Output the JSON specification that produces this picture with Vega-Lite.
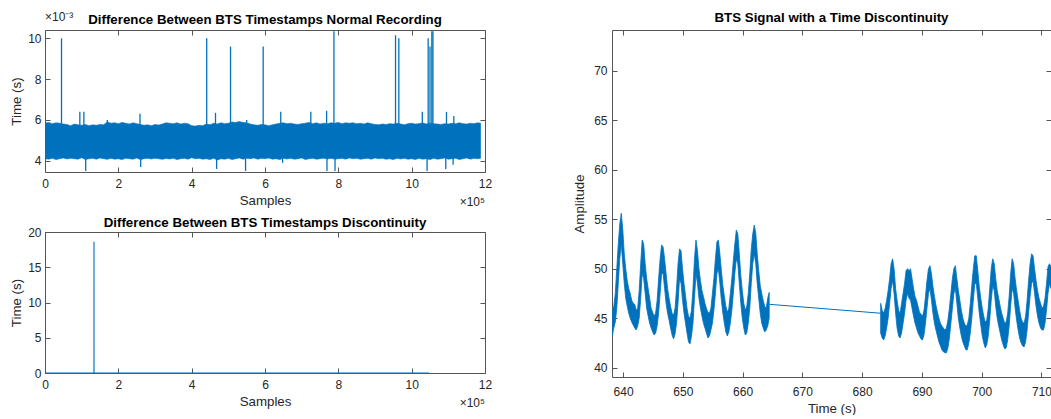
{
  "$schema": "https://vega.github.io/schema/vega-lite/v6.json",
  "padding": {"left": 9, "top": 10, "right": 0, "bottom": 0},
  "background": "white",
  "bounds": "flush",
  "spacing": 567,
  "config": {
    "font": "Liberation Sans",
    "view": {"stroke": "#555555", "strokeWidth": 1},
    "axis": {
      "domain": false, "grid": false, "ticks": true, "tickSize": -5, "tickColor": "#555555", "tickWidth": 1,
      "labelFont": "Liberation Sans", "labelFontSize": 12, "labelColor": "#262626", "labelPadding": 9,
      "labelFlush": false, "labelOverlap": false,
      "titleFont": "Liberation Sans", "titleFontSize": 13.3, "titleFontWeight": "normal", "titleColor": "#262626", "titlePadding": 4
    },
    "axisX": {"labelPadding": 11},
    "title": {"font": "Liberation Sans", "fontSize": 13.3, "fontWeight": "bold", "color": "#000000", "offset": 4}
  },
  "datasets": {
    "band": [
      {"sample": 0, "lo": 0.00410, "hi": 0.00585},
      {"sample": 10000, "lo": 0.00408, "hi": 0.00588},
      {"sample": 20000, "lo": 0.00412, "hi": 0.00582},
      {"sample": 30000, "lo": 0.00406, "hi": 0.00586},
      {"sample": 40000, "lo": 0.00410, "hi": 0.00584},
      {"sample": 50000, "lo": 0.00414, "hi": 0.00580},
      {"sample": 60000, "lo": 0.00409, "hi": 0.00578},
      {"sample": 70000, "lo": 0.00412, "hi": 0.00572},
      {"sample": 80000, "lo": 0.00410, "hi": 0.00580},
      {"sample": 90000, "lo": 0.00408, "hi": 0.00576},
      {"sample": 100000, "lo": 0.00415, "hi": 0.00574},
      {"sample": 110000, "lo": 0.00406, "hi": 0.00578},
      {"sample": 120000, "lo": 0.00410, "hi": 0.00572},
      {"sample": 130000, "lo": 0.00412, "hi": 0.00576},
      {"sample": 140000, "lo": 0.00408, "hi": 0.00574},
      {"sample": 150000, "lo": 0.00414, "hi": 0.00578},
      {"sample": 160000, "lo": 0.00410, "hi": 0.00576},
      {"sample": 170000, "lo": 0.00407, "hi": 0.00590},
      {"sample": 180000, "lo": 0.00412, "hi": 0.00584},
      {"sample": 190000, "lo": 0.00408, "hi": 0.00586},
      {"sample": 200000, "lo": 0.00410, "hi": 0.00582},
      {"sample": 210000, "lo": 0.00406, "hi": 0.00588},
      {"sample": 220000, "lo": 0.00412, "hi": 0.00584},
      {"sample": 230000, "lo": 0.00410, "hi": 0.00580},
      {"sample": 240000, "lo": 0.00408, "hi": 0.00586},
      {"sample": 250000, "lo": 0.00414, "hi": 0.00582},
      {"sample": 260000, "lo": 0.00406, "hi": 0.00578},
      {"sample": 270000, "lo": 0.00410, "hi": 0.00574},
      {"sample": 280000, "lo": 0.00412, "hi": 0.00576},
      {"sample": 290000, "lo": 0.00409, "hi": 0.00572},
      {"sample": 300000, "lo": 0.00413, "hi": 0.00578},
      {"sample": 310000, "lo": 0.00410, "hi": 0.00575},
      {"sample": 320000, "lo": 0.00407, "hi": 0.00580},
      {"sample": 330000, "lo": 0.00411, "hi": 0.00586},
      {"sample": 340000, "lo": 0.00409, "hi": 0.00584},
      {"sample": 350000, "lo": 0.00412, "hi": 0.00582},
      {"sample": 360000, "lo": 0.00406, "hi": 0.00586},
      {"sample": 370000, "lo": 0.00410, "hi": 0.00580},
      {"sample": 380000, "lo": 0.00412, "hi": 0.00584},
      {"sample": 390000, "lo": 0.00408, "hi": 0.00582},
      {"sample": 400000, "lo": 0.00415, "hi": 0.00572},
      {"sample": 410000, "lo": 0.00410, "hi": 0.00570},
      {"sample": 420000, "lo": 0.00412, "hi": 0.00574},
      {"sample": 430000, "lo": 0.00408, "hi": 0.00572},
      {"sample": 440000, "lo": 0.00410, "hi": 0.00580},
      {"sample": 450000, "lo": 0.00406, "hi": 0.00576},
      {"sample": 460000, "lo": 0.00412, "hi": 0.00584},
      {"sample": 470000, "lo": 0.00404, "hi": 0.00580},
      {"sample": 480000, "lo": 0.00410, "hi": 0.00586},
      {"sample": 490000, "lo": 0.00408, "hi": 0.00582},
      {"sample": 500000, "lo": 0.00412, "hi": 0.00584},
      {"sample": 510000, "lo": 0.00406, "hi": 0.00590},
      {"sample": 520000, "lo": 0.00410, "hi": 0.00588},
      {"sample": 530000, "lo": 0.00414, "hi": 0.00592},
      {"sample": 540000, "lo": 0.00408, "hi": 0.00588},
      {"sample": 550000, "lo": 0.00412, "hi": 0.00586},
      {"sample": 560000, "lo": 0.00410, "hi": 0.00580},
      {"sample": 570000, "lo": 0.00414, "hi": 0.00576},
      {"sample": 580000, "lo": 0.00408, "hi": 0.00574},
      {"sample": 590000, "lo": 0.00412, "hi": 0.00578},
      {"sample": 600000, "lo": 0.00410, "hi": 0.00576},
      {"sample": 610000, "lo": 0.00414, "hi": 0.00572},
      {"sample": 620000, "lo": 0.00408, "hi": 0.00576},
      {"sample": 630000, "lo": 0.00410, "hi": 0.00580},
      {"sample": 640000, "lo": 0.00406, "hi": 0.00584},
      {"sample": 650000, "lo": 0.00412, "hi": 0.00586},
      {"sample": 660000, "lo": 0.00409, "hi": 0.00582},
      {"sample": 670000, "lo": 0.00412, "hi": 0.00584},
      {"sample": 680000, "lo": 0.00408, "hi": 0.00580},
      {"sample": 690000, "lo": 0.00410, "hi": 0.00578},
      {"sample": 700000, "lo": 0.00414, "hi": 0.00582},
      {"sample": 710000, "lo": 0.00406, "hi": 0.00584},
      {"sample": 720000, "lo": 0.00410, "hi": 0.00588},
      {"sample": 730000, "lo": 0.00412, "hi": 0.00582},
      {"sample": 740000, "lo": 0.00408, "hi": 0.00586},
      {"sample": 750000, "lo": 0.00410, "hi": 0.00580},
      {"sample": 760000, "lo": 0.00413, "hi": 0.00584},
      {"sample": 770000, "lo": 0.00409, "hi": 0.00582},
      {"sample": 780000, "lo": 0.00412, "hi": 0.00586},
      {"sample": 790000, "lo": 0.00408, "hi": 0.00584},
      {"sample": 800000, "lo": 0.00410, "hi": 0.00588},
      {"sample": 810000, "lo": 0.00412, "hi": 0.00582},
      {"sample": 820000, "lo": 0.00408, "hi": 0.00586},
      {"sample": 830000, "lo": 0.00414, "hi": 0.00584},
      {"sample": 840000, "lo": 0.00410, "hi": 0.00586},
      {"sample": 850000, "lo": 0.00412, "hi": 0.00582},
      {"sample": 860000, "lo": 0.00408, "hi": 0.00584},
      {"sample": 870000, "lo": 0.00410, "hi": 0.00580},
      {"sample": 880000, "lo": 0.00412, "hi": 0.00586},
      {"sample": 890000, "lo": 0.00408, "hi": 0.00582},
      {"sample": 900000, "lo": 0.00414, "hi": 0.00578},
      {"sample": 910000, "lo": 0.00410, "hi": 0.00576},
      {"sample": 920000, "lo": 0.00412, "hi": 0.00580},
      {"sample": 930000, "lo": 0.00408, "hi": 0.00578},
      {"sample": 940000, "lo": 0.00410, "hi": 0.00582},
      {"sample": 950000, "lo": 0.00406, "hi": 0.00580},
      {"sample": 960000, "lo": 0.00412, "hi": 0.00584},
      {"sample": 970000, "lo": 0.00409, "hi": 0.00580},
      {"sample": 980000, "lo": 0.00412, "hi": 0.00576},
      {"sample": 990000, "lo": 0.00408, "hi": 0.00582},
      {"sample": 1000000, "lo": 0.00410, "hi": 0.00584},
      {"sample": 1010000, "lo": 0.00406, "hi": 0.00580},
      {"sample": 1020000, "lo": 0.00412, "hi": 0.00582},
      {"sample": 1030000, "lo": 0.00408, "hi": 0.00586},
      {"sample": 1040000, "lo": 0.00410, "hi": 0.00580},
      {"sample": 1050000, "lo": 0.00406, "hi": 0.00584},
      {"sample": 1060000, "lo": 0.00412, "hi": 0.00582},
      {"sample": 1070000, "lo": 0.00408, "hi": 0.00580},
      {"sample": 1080000, "lo": 0.00410, "hi": 0.00578},
      {"sample": 1090000, "lo": 0.00414, "hi": 0.00582},
      {"sample": 1100000, "lo": 0.00408, "hi": 0.00580},
      {"sample": 1110000, "lo": 0.00410, "hi": 0.00584},
      {"sample": 1120000, "lo": 0.00412, "hi": 0.00582},
      {"sample": 1130000, "lo": 0.00406, "hi": 0.00586},
      {"sample": 1140000, "lo": 0.00410, "hi": 0.00582},
      {"sample": 1150000, "lo": 0.00414, "hi": 0.00580},
      {"sample": 1160000, "lo": 0.00408, "hi": 0.00584},
      {"sample": 1170000, "lo": 0.00412, "hi": 0.00582},
      {"sample": 1180000, "lo": 0.00410, "hi": 0.00586},
      {"sample": 1188000, "lo": 0.00412, "hi": 0.00584}
    ],
    "spikes": [
      {"sample": 45000, "base": 0.005, "peak": 0.0100},
      {"sample": 95000, "base": 0.005, "peak": 0.0064},
      {"sample": 106000, "base": 0.005, "peak": 0.0064},
      {"sample": 111000, "base": 0.005, "peak": 0.0035},
      {"sample": 170000, "base": 0.005, "peak": 0.0060},
      {"sample": 259000, "base": 0.005, "peak": 0.0063},
      {"sample": 261000, "base": 0.005, "peak": 0.0037},
      {"sample": 441000, "base": 0.005, "peak": 0.0100},
      {"sample": 465000, "base": 0.005, "peak": 0.00635},
      {"sample": 468000, "base": 0.005, "peak": 0.0036},
      {"sample": 506000, "base": 0.005, "peak": 0.0096},
      {"sample": 547000, "base": 0.005, "peak": 0.0035},
      {"sample": 550000, "base": 0.005, "peak": 0.0060},
      {"sample": 595000, "base": 0.005, "peak": 0.0096},
      {"sample": 643000, "base": 0.005, "peak": 0.0064},
      {"sample": 648000, "base": 0.005, "peak": 0.0039},
      {"sample": 725000, "base": 0.005, "peak": 0.0064},
      {"sample": 768000, "base": 0.005, "peak": 0.00645},
      {"sample": 769000, "base": 0.005, "peak": 0.0035},
      {"sample": 788000, "base": 0.005, "peak": 0.01035},
      {"sample": 791000, "base": 0.005, "peak": 0.0035},
      {"sample": 956000, "base": 0.005, "peak": 0.01015},
      {"sample": 965000, "base": 0.005, "peak": 0.0100},
      {"sample": 1029000, "base": 0.005, "peak": 0.0064},
      {"sample": 1042000, "base": 0.005, "peak": 0.0035},
      {"sample": 1045000, "base": 0.005, "peak": 0.0100},
      {"sample": 1050000, "base": 0.005, "peak": 0.0096},
      {"sample": 1055000, "base": 0.005, "peak": 0.01035},
      {"sample": 1058000, "base": 0.005, "peak": 0.01035},
      {"sample": 1093000, "base": 0.005, "peak": 0.0036},
      {"sample": 1095000, "base": 0.005, "peak": 0.0064},
      {"sample": 1113000, "base": 0.005, "peak": 0.0038},
      {"sample": 1115000, "base": 0.005, "peak": 0.0062}
    ],
    "disc": [
      {"sample": 0, "dt": 0.005},
      {"sample": 133500, "dt": 0.005},
      {"sample": 133600, "dt": 18.6},
      {"sample": 133700, "dt": 0.005},
      {"sample": 1047000, "dt": 0.005}
    ],
    "signal": [
      {"t": 638.2, "lo": 43.2, "hi": 45.8, "seg": "a"},
      {"t": 638.45, "lo": 44.0, "hi": 46.2, "seg": "a"},
      {"t": 638.7, "lo": 44.6, "hi": 47.5, "seg": "a"},
      {"t": 638.95, "lo": 46.0, "hi": 50.0, "seg": "a"},
      {"t": 639.2, "lo": 48.5, "hi": 52.5, "seg": "a"},
      {"t": 639.45, "lo": 51.0, "hi": 54.5, "seg": "a"},
      {"t": 639.7, "lo": 52.5, "hi": 55.6, "seg": "a"},
      {"t": 639.95, "lo": 50.5, "hi": 54.0, "seg": "a"},
      {"t": 640.2, "lo": 48.5, "hi": 51.5, "seg": "a"},
      {"t": 640.45, "lo": 47.0, "hi": 50.0, "seg": "a"},
      {"t": 640.7, "lo": 46.2, "hi": 48.8, "seg": "a"},
      {"t": 640.95, "lo": 45.5, "hi": 48.0, "seg": "a"},
      {"t": 641.2, "lo": 45.0, "hi": 47.5, "seg": "a"},
      {"t": 641.45, "lo": 44.6, "hi": 46.8, "seg": "a"},
      {"t": 641.7, "lo": 44.3, "hi": 46.5, "seg": "a"},
      {"t": 641.95, "lo": 44.0, "hi": 46.4, "seg": "a"},
      {"t": 642.2, "lo": 43.8, "hi": 45.8, "seg": "a"},
      {"t": 642.45, "lo": 44.2, "hi": 46.0, "seg": "a"},
      {"t": 642.7, "lo": 45.0, "hi": 47.8, "seg": "a"},
      {"t": 642.95, "lo": 47.0, "hi": 50.5, "seg": "a"},
      {"t": 643.2, "lo": 49.5, "hi": 52.9, "seg": "a"},
      {"t": 643.45, "lo": 49.0, "hi": 52.5, "seg": "a"},
      {"t": 643.7, "lo": 47.5, "hi": 50.5, "seg": "a"},
      {"t": 643.95, "lo": 46.0, "hi": 49.0, "seg": "a"},
      {"t": 644.2, "lo": 45.2, "hi": 48.0, "seg": "a"},
      {"t": 644.45, "lo": 44.5, "hi": 47.0, "seg": "a"},
      {"t": 644.7, "lo": 44.0, "hi": 46.0, "seg": "a"},
      {"t": 644.95, "lo": 43.6, "hi": 45.6, "seg": "a"},
      {"t": 645.2, "lo": 43.3, "hi": 45.2, "seg": "a"},
      {"t": 645.45, "lo": 43.5, "hi": 45.5, "seg": "a"},
      {"t": 645.7, "lo": 44.2, "hi": 46.8, "seg": "a"},
      {"t": 645.95, "lo": 45.5, "hi": 49.0, "seg": "a"},
      {"t": 646.2, "lo": 47.5, "hi": 51.0, "seg": "a"},
      {"t": 646.45, "lo": 49.5, "hi": 52.4, "seg": "a"},
      {"t": 646.7, "lo": 49.5, "hi": 52.2, "seg": "a"},
      {"t": 646.95, "lo": 48.0, "hi": 51.0, "seg": "a"},
      {"t": 647.2, "lo": 46.5, "hi": 49.5, "seg": "a"},
      {"t": 647.45, "lo": 45.5, "hi": 48.0, "seg": "a"},
      {"t": 647.7, "lo": 44.8, "hi": 47.0, "seg": "a"},
      {"t": 647.95, "lo": 44.0, "hi": 46.2, "seg": "a"},
      {"t": 648.2, "lo": 43.3, "hi": 45.5, "seg": "a"},
      {"t": 648.45, "lo": 42.9, "hi": 45.3, "seg": "a"},
      {"t": 648.7, "lo": 43.4, "hi": 46.0, "seg": "a"},
      {"t": 648.95, "lo": 44.5, "hi": 48.0, "seg": "a"},
      {"t": 649.2, "lo": 46.5, "hi": 50.5, "seg": "a"},
      {"t": 649.45, "lo": 49.0, "hi": 52.0, "seg": "a"},
      {"t": 649.7, "lo": 48.5, "hi": 51.8, "seg": "a"},
      {"t": 649.95, "lo": 46.8, "hi": 50.0, "seg": "a"},
      {"t": 650.2, "lo": 45.5, "hi": 48.5, "seg": "a"},
      {"t": 650.45, "lo": 44.5, "hi": 47.3, "seg": "a"},
      {"t": 650.7, "lo": 43.5, "hi": 46.0, "seg": "a"},
      {"t": 650.95, "lo": 42.6, "hi": 45.2, "seg": "a"},
      {"t": 651.2, "lo": 42.4, "hi": 45.0, "seg": "a"},
      {"t": 651.45, "lo": 43.2, "hi": 45.8, "seg": "a"},
      {"t": 651.7, "lo": 44.5, "hi": 48.0, "seg": "a"},
      {"t": 651.95, "lo": 47.0, "hi": 51.0, "seg": "a"},
      {"t": 652.2, "lo": 49.5, "hi": 52.9, "seg": "a"},
      {"t": 652.45, "lo": 48.5, "hi": 51.8, "seg": "a"},
      {"t": 652.7, "lo": 47.0, "hi": 50.0, "seg": "a"},
      {"t": 652.95, "lo": 46.0, "hi": 48.8, "seg": "a"},
      {"t": 653.2, "lo": 45.2, "hi": 47.8, "seg": "a"},
      {"t": 653.45, "lo": 44.5, "hi": 47.2, "seg": "a"},
      {"t": 653.7, "lo": 44.0, "hi": 46.5, "seg": "a"},
      {"t": 653.95, "lo": 43.5, "hi": 46.0, "seg": "a"},
      {"t": 654.2, "lo": 43.0, "hi": 45.6, "seg": "a"},
      {"t": 654.45, "lo": 43.2, "hi": 45.5, "seg": "a"},
      {"t": 654.7, "lo": 43.8, "hi": 46.0, "seg": "a"},
      {"t": 654.95, "lo": 44.5, "hi": 47.5, "seg": "a"},
      {"t": 655.2, "lo": 45.8, "hi": 49.0, "seg": "a"},
      {"t": 655.45, "lo": 47.5, "hi": 51.0, "seg": "a"},
      {"t": 655.7, "lo": 49.5, "hi": 52.7, "seg": "a"},
      {"t": 655.95, "lo": 50.0, "hi": 52.9, "seg": "a"},
      {"t": 656.2, "lo": 48.5, "hi": 51.5, "seg": "a"},
      {"t": 656.45, "lo": 46.8, "hi": 49.8, "seg": "a"},
      {"t": 656.7, "lo": 45.5, "hi": 48.3, "seg": "a"},
      {"t": 656.95, "lo": 44.5, "hi": 47.2, "seg": "a"},
      {"t": 657.2, "lo": 43.6, "hi": 46.2, "seg": "a"},
      {"t": 657.45, "lo": 43.2, "hi": 45.6, "seg": "a"},
      {"t": 657.7, "lo": 43.6, "hi": 46.0, "seg": "a"},
      {"t": 657.95, "lo": 44.5, "hi": 47.5, "seg": "a"},
      {"t": 658.2, "lo": 45.8, "hi": 49.0, "seg": "a"},
      {"t": 658.45, "lo": 47.5, "hi": 50.8, "seg": "a"},
      {"t": 658.7, "lo": 49.5, "hi": 52.5, "seg": "a"},
      {"t": 658.95, "lo": 51.0, "hi": 53.9, "seg": "a"},
      {"t": 659.2, "lo": 50.5, "hi": 53.5, "seg": "a"},
      {"t": 659.45, "lo": 48.5, "hi": 51.5, "seg": "a"},
      {"t": 659.7, "lo": 46.5, "hi": 49.3, "seg": "a"},
      {"t": 659.95, "lo": 45.0, "hi": 47.8, "seg": "a"},
      {"t": 660.2, "lo": 44.0, "hi": 46.5, "seg": "a"},
      {"t": 660.45, "lo": 43.3, "hi": 45.8, "seg": "a"},
      {"t": 660.7, "lo": 43.5, "hi": 46.2, "seg": "a"},
      {"t": 660.95, "lo": 44.5, "hi": 47.5, "seg": "a"},
      {"t": 661.2, "lo": 46.0, "hi": 49.5, "seg": "a"},
      {"t": 661.45, "lo": 48.5, "hi": 52.0, "seg": "a"},
      {"t": 661.7, "lo": 50.5, "hi": 53.5, "seg": "a"},
      {"t": 661.95, "lo": 51.5, "hi": 54.4, "seg": "a"},
      {"t": 662.2, "lo": 50.5, "hi": 53.6, "seg": "a"},
      {"t": 662.45, "lo": 48.5, "hi": 51.5, "seg": "a"},
      {"t": 662.7, "lo": 47.0, "hi": 49.8, "seg": "a"},
      {"t": 662.95, "lo": 45.5, "hi": 48.3, "seg": "a"},
      {"t": 663.2, "lo": 44.5, "hi": 47.5, "seg": "a"},
      {"t": 663.45, "lo": 44.0, "hi": 46.8, "seg": "a"},
      {"t": 663.7, "lo": 43.6, "hi": 46.2, "seg": "a"},
      {"t": 663.95, "lo": 43.8, "hi": 46.0, "seg": "a"},
      {"t": 664.2, "lo": 44.2, "hi": 47.0, "seg": "a"},
      {"t": 664.45, "lo": 45.0, "hi": 47.6, "seg": "a"},
      {"t": 683.1, "lo": 43.5, "hi": 46.5, "seg": "b"},
      {"t": 683.35, "lo": 43.0, "hi": 45.8, "seg": "b"},
      {"t": 683.6, "lo": 42.8, "hi": 45.5, "seg": "b"},
      {"t": 683.85, "lo": 43.2, "hi": 46.0, "seg": "b"},
      {"t": 684.1, "lo": 44.0, "hi": 46.8, "seg": "b"},
      {"t": 684.35, "lo": 45.0, "hi": 47.8, "seg": "b"},
      {"t": 684.6, "lo": 46.5, "hi": 49.0, "seg": "b"},
      {"t": 684.85, "lo": 48.0, "hi": 50.5, "seg": "b"},
      {"t": 685.1, "lo": 48.8, "hi": 51.0, "seg": "b"},
      {"t": 685.35, "lo": 47.5, "hi": 50.0, "seg": "b"},
      {"t": 685.6, "lo": 45.5, "hi": 48.0, "seg": "b"},
      {"t": 685.85, "lo": 44.0, "hi": 46.8, "seg": "b"},
      {"t": 686.1, "lo": 43.2, "hi": 45.8, "seg": "b"},
      {"t": 686.35, "lo": 43.0, "hi": 45.5, "seg": "b"},
      {"t": 686.6, "lo": 43.5, "hi": 46.5, "seg": "b"},
      {"t": 686.85, "lo": 44.5, "hi": 47.5, "seg": "b"},
      {"t": 687.1, "lo": 45.5, "hi": 48.5, "seg": "b"},
      {"t": 687.35, "lo": 46.8, "hi": 49.8, "seg": "b"},
      {"t": 687.6, "lo": 47.5, "hi": 50.0, "seg": "b"},
      {"t": 687.85, "lo": 47.0, "hi": 49.8, "seg": "b"},
      {"t": 688.1, "lo": 46.8, "hi": 50.0, "seg": "b"},
      {"t": 688.35, "lo": 46.0, "hi": 49.0, "seg": "b"},
      {"t": 688.6, "lo": 45.2, "hi": 48.0, "seg": "b"},
      {"t": 688.85, "lo": 44.5, "hi": 47.2, "seg": "b"},
      {"t": 689.1, "lo": 44.0, "hi": 46.8, "seg": "b"},
      {"t": 689.35, "lo": 43.5, "hi": 46.2, "seg": "b"},
      {"t": 689.6, "lo": 43.2, "hi": 45.6, "seg": "b"},
      {"t": 689.85, "lo": 42.9, "hi": 45.4, "seg": "b"},
      {"t": 690.1, "lo": 42.8, "hi": 45.2, "seg": "b"},
      {"t": 690.35, "lo": 43.3, "hi": 45.8, "seg": "b"},
      {"t": 690.6, "lo": 44.5, "hi": 47.2, "seg": "b"},
      {"t": 690.85, "lo": 46.0, "hi": 48.8, "seg": "b"},
      {"t": 691.1, "lo": 47.5, "hi": 50.0, "seg": "b"},
      {"t": 691.35, "lo": 48.0, "hi": 50.3, "seg": "b"},
      {"t": 691.6, "lo": 46.8, "hi": 49.5, "seg": "b"},
      {"t": 691.85, "lo": 45.5, "hi": 48.2, "seg": "b"},
      {"t": 692.1, "lo": 44.5, "hi": 47.2, "seg": "b"},
      {"t": 692.35, "lo": 43.8, "hi": 46.3, "seg": "b"},
      {"t": 692.6, "lo": 43.2, "hi": 45.6, "seg": "b"},
      {"t": 692.85, "lo": 42.6, "hi": 45.0, "seg": "b"},
      {"t": 693.1, "lo": 42.2, "hi": 44.5, "seg": "b"},
      {"t": 693.35, "lo": 41.8, "hi": 44.2, "seg": "b"},
      {"t": 693.6, "lo": 41.6, "hi": 44.0, "seg": "b"},
      {"t": 693.85, "lo": 41.5, "hi": 43.8, "seg": "b"},
      {"t": 694.1, "lo": 41.5, "hi": 44.0, "seg": "b"},
      {"t": 694.35, "lo": 42.0, "hi": 44.8, "seg": "b"},
      {"t": 694.6, "lo": 43.0, "hi": 46.0, "seg": "b"},
      {"t": 694.85, "lo": 44.5, "hi": 47.5, "seg": "b"},
      {"t": 695.1, "lo": 46.0, "hi": 49.0, "seg": "b"},
      {"t": 695.35, "lo": 47.5, "hi": 50.0, "seg": "b"},
      {"t": 695.6, "lo": 48.0, "hi": 50.3, "seg": "b"},
      {"t": 695.85, "lo": 46.5, "hi": 49.0, "seg": "b"},
      {"t": 696.1, "lo": 45.0, "hi": 47.8, "seg": "b"},
      {"t": 696.35, "lo": 44.0, "hi": 46.8, "seg": "b"},
      {"t": 696.6, "lo": 43.2, "hi": 45.8, "seg": "b"},
      {"t": 696.85, "lo": 42.6, "hi": 45.0, "seg": "b"},
      {"t": 697.1, "lo": 42.2, "hi": 44.5, "seg": "b"},
      {"t": 697.35, "lo": 41.8, "hi": 44.2, "seg": "b"},
      {"t": 697.6, "lo": 41.8, "hi": 44.3, "seg": "b"},
      {"t": 697.85, "lo": 42.5, "hi": 45.0, "seg": "b"},
      {"t": 698.1, "lo": 43.5, "hi": 46.5, "seg": "b"},
      {"t": 698.35, "lo": 45.0, "hi": 48.3, "seg": "b"},
      {"t": 698.6, "lo": 46.8, "hi": 50.0, "seg": "b"},
      {"t": 698.85, "lo": 48.5, "hi": 51.3, "seg": "b"},
      {"t": 699.1, "lo": 48.5, "hi": 51.3, "seg": "b"},
      {"t": 699.35, "lo": 47.0, "hi": 49.8, "seg": "b"},
      {"t": 699.6, "lo": 45.5, "hi": 48.2, "seg": "b"},
      {"t": 699.85, "lo": 44.3, "hi": 47.0, "seg": "b"},
      {"t": 700.1, "lo": 43.2, "hi": 46.0, "seg": "b"},
      {"t": 700.35, "lo": 42.5, "hi": 45.2, "seg": "b"},
      {"t": 700.6, "lo": 42.0, "hi": 44.6, "seg": "b"},
      {"t": 700.85, "lo": 42.3, "hi": 44.8, "seg": "b"},
      {"t": 701.1, "lo": 43.2, "hi": 46.0, "seg": "b"},
      {"t": 701.35, "lo": 44.8, "hi": 48.0, "seg": "b"},
      {"t": 701.6, "lo": 46.8, "hi": 50.0, "seg": "b"},
      {"t": 701.85, "lo": 48.3, "hi": 51.0, "seg": "b"},
      {"t": 702.1, "lo": 47.8, "hi": 50.5, "seg": "b"},
      {"t": 702.35, "lo": 46.2, "hi": 49.0, "seg": "b"},
      {"t": 702.6, "lo": 45.0, "hi": 47.8, "seg": "b"},
      {"t": 702.85, "lo": 44.2, "hi": 47.0, "seg": "b"},
      {"t": 703.1, "lo": 43.5, "hi": 46.2, "seg": "b"},
      {"t": 703.35, "lo": 42.8, "hi": 45.5, "seg": "b"},
      {"t": 703.6, "lo": 42.3, "hi": 45.0, "seg": "b"},
      {"t": 703.85, "lo": 41.9, "hi": 44.5, "seg": "b"},
      {"t": 704.1, "lo": 42.0, "hi": 44.6, "seg": "b"},
      {"t": 704.35, "lo": 42.8, "hi": 45.5, "seg": "b"},
      {"t": 704.6, "lo": 44.2, "hi": 47.2, "seg": "b"},
      {"t": 704.85, "lo": 46.2, "hi": 49.5, "seg": "b"},
      {"t": 705.1, "lo": 48.0, "hi": 51.0, "seg": "b"},
      {"t": 705.35, "lo": 47.5, "hi": 50.5, "seg": "b"},
      {"t": 705.6, "lo": 46.0, "hi": 49.0, "seg": "b"},
      {"t": 705.85, "lo": 44.8, "hi": 47.8, "seg": "b"},
      {"t": 706.1, "lo": 43.8, "hi": 46.8, "seg": "b"},
      {"t": 706.35, "lo": 43.0, "hi": 45.8, "seg": "b"},
      {"t": 706.6, "lo": 42.5, "hi": 45.0, "seg": "b"},
      {"t": 706.85, "lo": 42.2, "hi": 44.6, "seg": "b"},
      {"t": 707.1, "lo": 42.1, "hi": 44.5, "seg": "b"},
      {"t": 707.35, "lo": 42.6, "hi": 45.2, "seg": "b"},
      {"t": 707.6, "lo": 43.8, "hi": 46.8, "seg": "b"},
      {"t": 707.85, "lo": 45.5, "hi": 48.8, "seg": "b"},
      {"t": 708.1, "lo": 47.2, "hi": 50.5, "seg": "b"},
      {"t": 708.35, "lo": 48.5, "hi": 51.5, "seg": "b"},
      {"t": 708.6, "lo": 48.8, "hi": 51.3, "seg": "b"},
      {"t": 708.85, "lo": 47.5, "hi": 50.0, "seg": "b"},
      {"t": 709.1, "lo": 46.2, "hi": 48.8, "seg": "b"},
      {"t": 709.35, "lo": 45.2, "hi": 47.8, "seg": "b"},
      {"t": 709.6, "lo": 44.5, "hi": 47.0, "seg": "b"},
      {"t": 709.85, "lo": 44.0, "hi": 46.5, "seg": "b"},
      {"t": 710.1, "lo": 43.8, "hi": 46.0, "seg": "b"},
      {"t": 710.35, "lo": 43.8, "hi": 46.2, "seg": "b"},
      {"t": 710.6, "lo": 44.5, "hi": 47.0, "seg": "b"},
      {"t": 710.85, "lo": 45.8, "hi": 48.5, "seg": "b"},
      {"t": 711.1, "lo": 47.5, "hi": 50.2, "seg": "b"},
      {"t": 711.35, "lo": 48.5, "hi": 50.5, "seg": "b"},
      {"t": 711.6, "lo": 48.0, "hi": 50.2, "seg": "b"}
    ],
    "gap": [
      {"t": 664.45, "a": 46.4},
      {"t": 683.1, "a": 45.5}
    ]
  },
  "hconcat": [
    {
      "vconcat": [
        {
          "width": 440, "height": 142,
          "title": {"text": "Difference Between BTS Timestamps Normal Recording", "dy": 19},
          "layer": [
            {
              "data": {"name": "band"},
              "mark": {"type": "area", "color": "#0072BD", "stroke": "#0072BD", "strokeWidth": 0.6, "clip": true},
              "encoding": {
                "x": {"field": "sample", "type": "quantitative",
                      "scale": {"domain": [0, 1200000], "nice": false, "zero": false},
                      "axis": {"values": [0, 200000, 400000, 600000, 800000, 1000000, 1200000], "labelExpr": "round(datum.value/100000)", "title": "Samples"}},
                "y": {"field": "lo", "type": "quantitative",
                      "scale": {"domain": [0.00345, 0.01041], "nice": false, "zero": false},
                      "axis": {"values": [0.004, 0.006, 0.008, 0.010], "labelExpr": "round(datum.value*1000)", "title": "Time (s)"}},
                "y2": {"field": "hi"}
              }
            },
            {
              "data": {"name": "spikes"},
              "mark": {"type": "rule", "color": "#0072BD", "strokeWidth": 1.3, "clip": true},
              "encoding": {
                "x": {"field": "sample", "type": "quantitative",
                      "axis": {"orient": "top", "values": [0, 200000, 400000, 600000, 800000, 1000000, 1200000], "labels": false, "title": null}},
                "y": {"field": "base", "type": "quantitative",
                      "axis": {"orient": "right", "values": [0.004, 0.006, 0.008, 0.010], "labels": false, "title": null}},
                "y2": {"field": "peak"}
              }
            },
            {
              "data": {"values": [{}]},
              "mark": {"type": "text", "text": "×10⁻³", "align": "left", "baseline": "alphabetic", "dy": -9, "fontSize": 12, "color": "#262626"},
              "encoding": {
                "x": {"datum": 0, "type": "quantitative", "axis": null},
                "y": {"datum": 0.01041, "type": "quantitative", "axis": null}
              }
            },
            {
              "data": {"values": [{}]},
              "mark": {"type": "text", "text": "×10⁵", "align": "right", "baseline": "alphabetic", "dy": 34, "fontSize": 12, "color": "#262626"},
              "encoding": {
                "x": {"datum": 1200000, "type": "quantitative", "axis": null},
                "y": {"datum": 0.00345, "type": "quantitative", "axis": null}
              }
            }
          ],
          "resolve": {"axis": {"x": "independent", "y": "independent"}}
        },
        {
          "width": 440, "height": 141,
          "title": {"text": "Difference Between BTS Timestamps Discontinuity", "dy": 7},
          "layer": [
            {
              "data": {"name": "disc"},
              "mark": {"type": "line", "color": "#0072BD", "strokeWidth": 1.1, "clip": true},
              "encoding": {
                "x": {"field": "sample", "type": "quantitative",
                      "scale": {"domain": [0, 1200000], "nice": false, "zero": false},
                      "axis": {"values": [0, 200000, 400000, 600000, 800000, 1000000, 1200000], "labelExpr": "round(datum.value/100000)", "title": "Samples"}},
                "y": {"field": "dt", "type": "quantitative",
                      "scale": {"domain": [0, 20], "nice": false, "zero": false},
                      "axis": {"values": [0, 5, 10, 15, 20], "title": "Time (s)"}}
              }
            },
            {
              "data": {"values": [{}]},
              "mark": {"type": "text", "text": "×10⁵", "align": "right", "baseline": "alphabetic", "dy": 34, "fontSize": 12, "color": "#262626"},
              "encoding": {
                "x": {"datum": 1200000, "type": "quantitative",
                      "axis": {"orient": "top", "values": [0, 200000, 400000, 600000, 800000, 1000000, 1200000], "labels": false, "title": null}},
                "y": {"datum": 0, "type": "quantitative",
                      "axis": {"orient": "right", "values": [0, 5, 10, 15, 20], "labels": false, "title": null}}
              }
            }
          ],
          "resolve": {"axis": {"x": "independent", "y": "independent"}}
        }
      ],
      "spacing": 60,
      "bounds": "flush"
    },
    {
      "width": 439, "height": 347,
      "title": {"text": "BTS Signal with a Time Discontinuity", "offset": 6, "dy": 1},
      "layer": [
        {
          "data": {"name": "signal"},
          "mark": {"type": "area", "color": "#0072BD", "stroke": "#0072BD", "strokeWidth": 0.8, "clip": true},
          "encoding": {
            "x": {"field": "t", "type": "quantitative",
                  "scale": {"domain": [638.15, 711.6], "nice": false, "zero": false},
                  "axis": {"values": [640, 650, 660, 670, 680, 690, 700, 710], "title": "Time (s)", "labelPadding": 14}},
            "y": {"field": "lo", "type": "quantitative",
                  "scale": {"domain": [39.06, 74.1], "nice": false, "zero": false},
                  "axis": {"values": [40, 45, 50, 55, 60, 65, 70], "title": "Amplitude", "labelPadding": 10, "titlePadding": 7}},
            "y2": {"field": "hi"},
            "detail": {"field": "seg"}
          }
        },
        {
          "data": {"name": "gap"},
          "mark": {"type": "line", "color": "#0072BD", "strokeWidth": 1, "clip": true},
          "encoding": {
            "x": {"field": "t", "type": "quantitative",
                  "axis": {"orient": "top", "values": [640, 650, 660, 670, 680, 690, 700, 710], "labels": false, "title": null}},
            "y": {"field": "a", "type": "quantitative",
                  "axis": {"orient": "right", "values": [40, 45, 50, 55, 60, 65, 70], "labels": false, "title": null}}
          }
        }
      ],
      "resolve": {"axis": {"x": "independent", "y": "independent"}}
    }
  ]
}
